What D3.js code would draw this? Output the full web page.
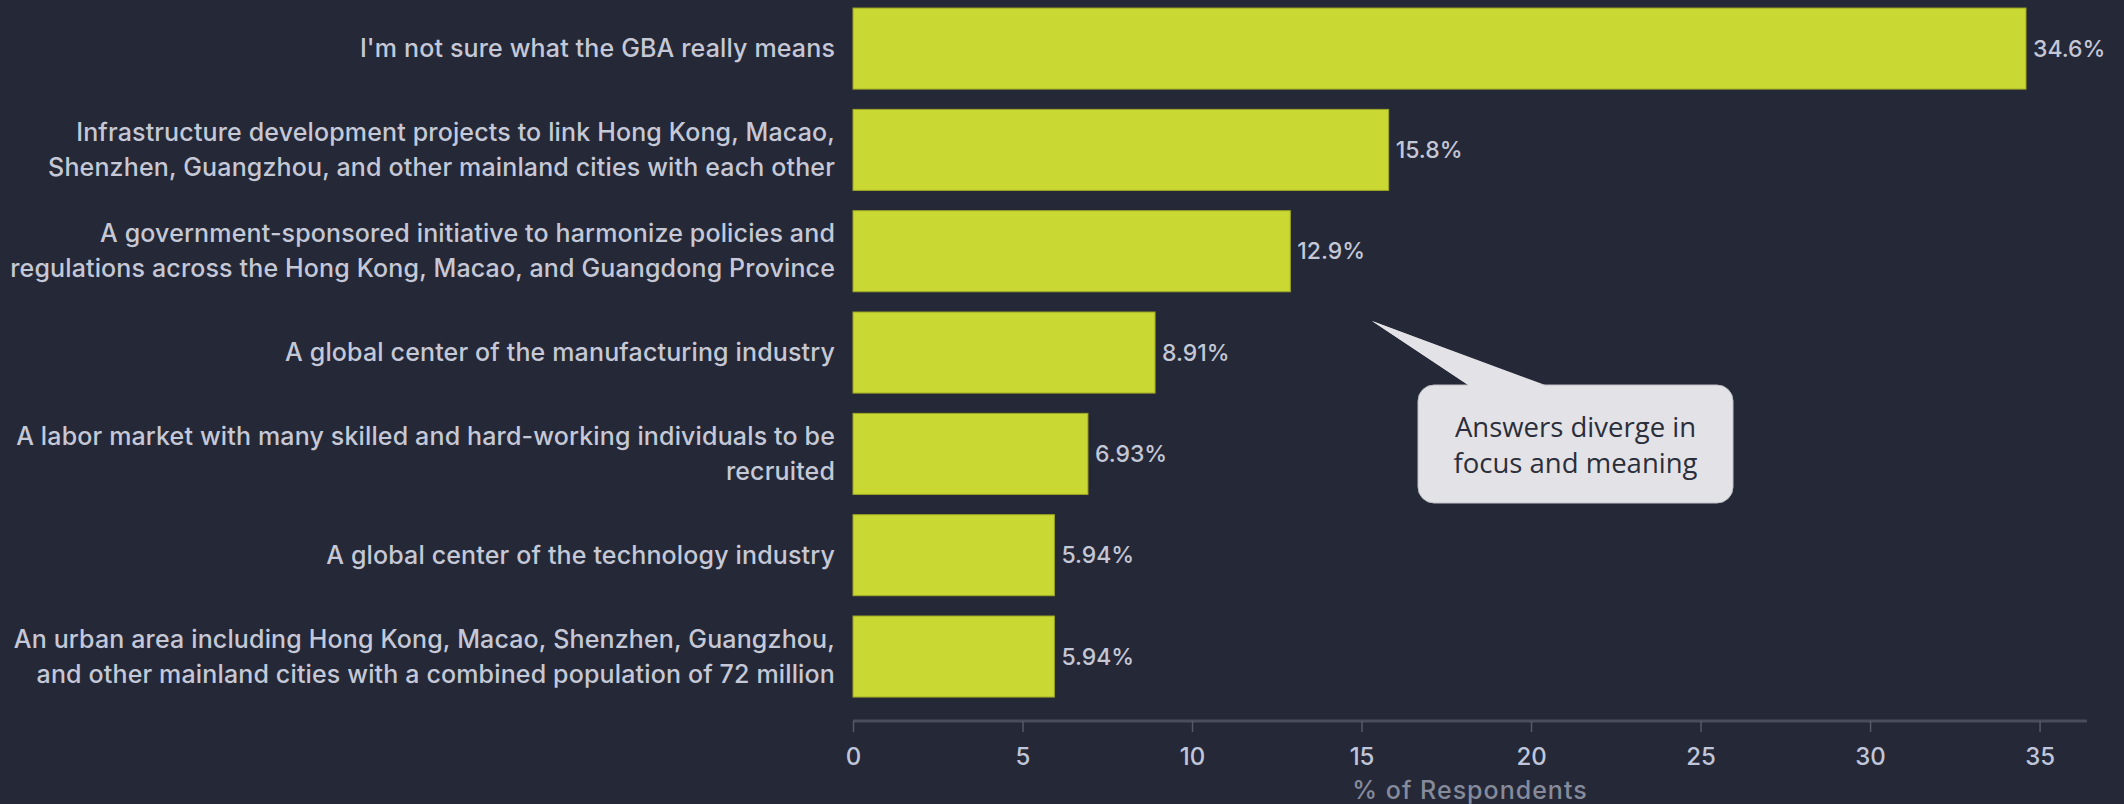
<!DOCTYPE html>
<html>
<head>
<meta charset="utf-8">
<script src="https://cdn.jsdelivr.net/npm/d3@7"></script>
<style>
  html, body { margin: 0; padding: 0; background: #252836; }
  svg { display: block; }
</style>
</head>
<body>
<svg id="chart" width="2124" height="804"></svg>
<script>
// Survey answers: what the Greater Bay Area (GBA) means to respondents
const categories = [
  "I'm not sure what the GBA really means",
  "Infrastructure development projects to link Hong Kong, Macao,\nShenzhen, Guangzhou, and other mainland cities with each other",
  "A government-sponsored initiative to harmonize policies and\nregulations across the Hong Kong, Macao, and Guangdong Province",
  "A global center of the manufacturing industry",
  "A labor market with many skilled and hard-working individuals to be\nrecruited",
  "A global center of the technology industry",
  "An urban area including Hong Kong, Macao, Shenzhen, Guangzhou,\nand other mainland cities with a combined population of 72 million"
];
const percentages = [34.6, 15.8, 12.9, 8.91, 6.93, 5.94, 5.94];
const xTicks = [0, 5, 10, 15, 20, 25, 30, 35];
const xTitle = "% of Respondents";
const calloutLines = ["Answers diverge in", "focus and meaning"];

const svg = d3.select("#chart");
const W = 2124, H = 804;
const plot = { left: 853, right: 2087, top: -2.1, bottom: 707.2, axisY: 721 };
const uiFont = "Inter, 'Noto Sans', sans-serif";

svg.append("rect").attr("width", W).attr("height", H).attr("fill", "#252836");

const x = d3.scaleLinear()
  .domain([0, d3.max(percentages) * 1.052])
  .range([plot.left, plot.right]);

const y = d3.scaleBand()
  .domain(categories)
  .range([plot.top, plot.bottom])
  .paddingInner(0.2)
  .paddingOuter(0.1);

// bars
svg.append("g").selectAll("rect")
  .data(categories)
  .join("rect")
  .attr("x", x(0))
  .attr("y", d => y(d))
  .attr("width", (d, i) => x(percentages[i]) - x(0))
  .attr("height", y.bandwidth())
  .attr("fill", "#c9d832")
  .attr("stroke", "#9ea624")
  .attr("stroke-width", 1);

// value labels
const fmt = d3.format(".3");
svg.append("g").selectAll("text")
  .data(categories)
  .join("text")
  .attr("x", (d, i) => x(percentages[i]) + 7)
  .attr("y", d => y(d) + y.bandwidth() / 2)
  .attr("dy", "0.35em")
  .attr("fill", "#c3c7d6")
  .attr("font-family", uiFont)
  .attr("font-size", 23)
  .attr("font-weight", 500)
  .text((d, i) => fmt(percentages[i]) + "%");

// category labels (right-aligned, possibly two lines)
const lineGap = 35;
const catG = svg.append("g");
categories.forEach(cat => {
  const lines = cat.split("\n");
  const cy = y(cat) + y.bandwidth() / 2;
  const t = catG.append("text")
    .attr("text-anchor", "end")
    .attr("fill", "#c5c8d6")
    .attr("font-family", uiFont)
    .attr("font-size", 25)
    .attr("font-weight", 500)
    .attr("letter-spacing", "0.15");
  lines.forEach((ln, j) => {
    t.append("tspan")
      .attr("x", plot.left - 18)
      .attr("y", cy + (j - (lines.length - 1) / 2) * lineGap)
      .attr("dy", "0.35em")
      .text(ln);
  });
});

// x axis
const axis = svg.append("g")
  .attr("transform", `translate(0,${plot.axisY})`)
  .call(d3.axisBottom(x).tickValues(xTicks).tickSize(11).tickPadding(16).tickFormat(d3.format("d")));
axis.select(".domain")
  .attr("d", `M${plot.left},0H${plot.right}`)
  .attr("stroke", "#4a4d5c")
  .attr("stroke-width", 3);
axis.selectAll(".tick line").attr("stroke", "#55596a").attr("stroke-width", 1.5);
axis.selectAll(".tick text")
  .attr("fill", "#c0c6da")
  .attr("font-family", uiFont)
  .attr("font-size", 24)
  .attr("font-weight", 500);

svg.append("text")
  .attr("x", (plot.left + plot.right) / 2)
  .attr("y", 799)
  .attr("text-anchor", "middle")
  .attr("fill", "#868b9c")
  .attr("font-family", uiFont)
  .attr("font-size", 25)
  .attr("font-weight", 500)
  .attr("letter-spacing", "1")
  .text(xTitle);

// callout bubble
const box = { x: 1418, y: 385, w: 315, h: 118, r: 16 };
const tip = { x: 1372, y: 321 };
const baseL = 1470, baseR = 1548;
const co = svg.append("g");
co.append("path")
  .attr("d", `M${baseL},${box.y + 1}L${tip.x},${tip.y}L${baseR},${box.y + 1}Z`)
  .attr("fill", "#e3e3e7");
co.append("rect")
  .attr("x", box.x).attr("y", box.y)
  .attr("width", box.w).attr("height", box.h)
  .attr("rx", box.r)
  .attr("fill", "#e3e3e7")
  .attr("stroke", "#bfc0c6")
  .attr("stroke-width", 1);
co.append("path")
  .attr("d", `M${baseL + 1},${box.y + 2}L${tip.x},${tip.y}L${baseR - 1},${box.y + 2}Z`)
  .attr("fill", "#e3e3e7");
const ct = co.append("text")
  .attr("text-anchor", "middle")
  .attr("fill", "#2b2e3b")
  .attr("font-family", "'Open Sans', Lato, sans-serif")
  .attr("font-size", 27.5);
calloutLines.forEach((ln, j) => {
  ct.append("tspan")
    .attr("x", box.x + box.w / 2)
    .attr("y", 437 + j * 36)
    .text(ln);
});
</script>
</body>
</html>
